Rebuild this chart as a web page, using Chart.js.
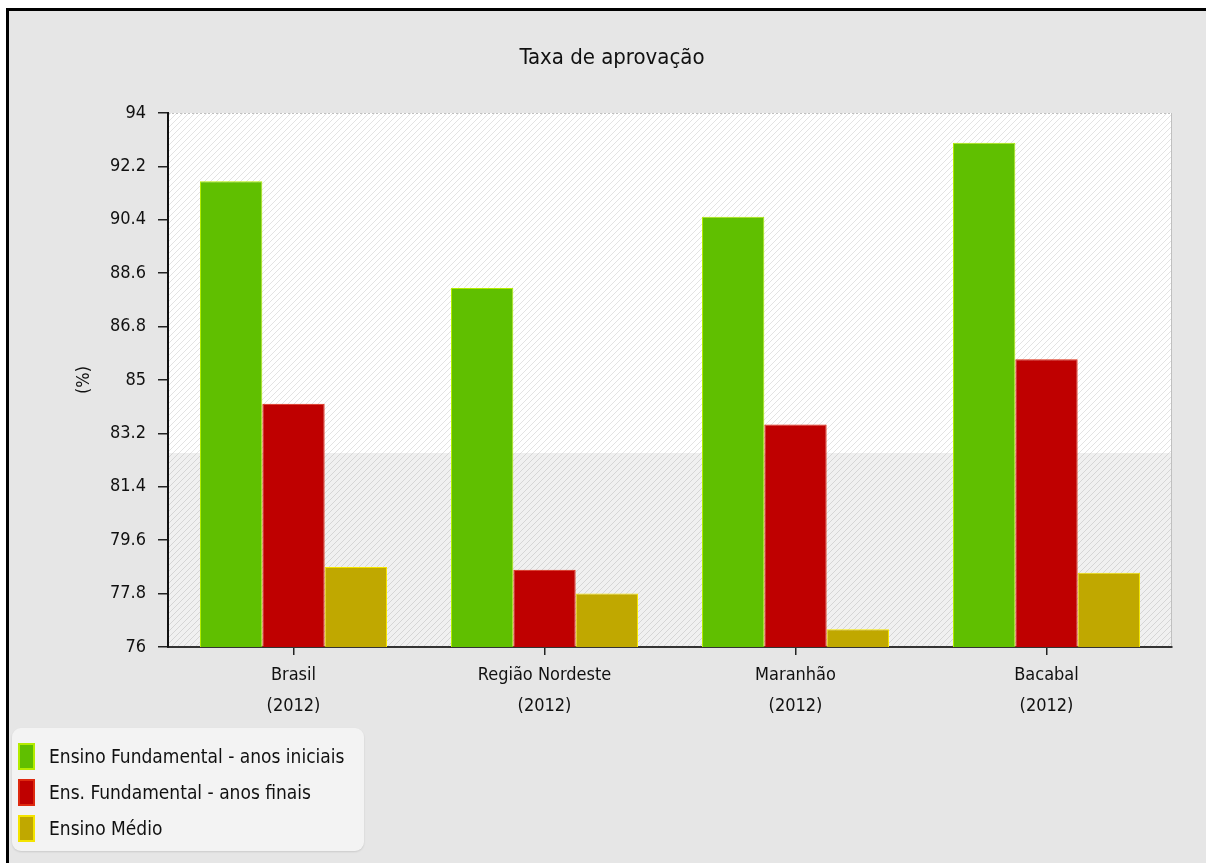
<!DOCTYPE html>
<html lang="pt-BR">
<head>
<meta charset="utf-8">
<title>Taxa de aprovação</title>
<script src="https://cdn.jsdelivr.net/npm/chart.js@4.4.1/dist/chart.umd.min.js"></script>
<style>
  html, body { margin: 0; padding: 0; background: #fff; }
  #frame {
    position: absolute; left: 6px; top: 8px; width: 1197px; height: 860px;
    border-left: 3px solid #000; border-top: 3px solid #000; border-right: 3px solid #000;
    background: #e6e6e6;
  }
  #wrap { position: absolute; left: 0; top: 0; width: 1194px; height: 852px; }
  #legend {
    position: absolute; left: 3px; top: 717px; width: 352px; height: 123px;
    background: #f3f3f3; border-radius: 9px; box-shadow: 0 1px 2px rgba(0,0,0,0.12);
    font-family: 'DejaVu Sans Condensed', 'DejaVu Sans', sans-serif; font-size: 19px; color: #111;
  }
  .legend-item { position: absolute; left: 6px; height: 28px; display: flex; align-items: center; }
  .legend-swatch { width: 13px; height: 23px; border: 2px solid; margin-right: 14px; }
</style>
</head>
<body>
<div id="frame">
  <div id="wrap"><canvas id="chart"></canvas></div>
  <div id="legend"></div>
</div>
<script>
// ── DATA ───────────────────────────────────────────────────────────────────

const CATEGORIES = [
  ['Brasil', '(2012)'],
  ['Região Nordeste', '(2012)'],
  ['Maranhão', '(2012)'],
  ['Bacabal', '(2012)'],
];

const ANOS_INICIAIS = [91.7, 88.1, 90.5, 93.0];
const ANOS_FINAIS   = [84.2, 78.6, 83.5, 85.7];
const ENSINO_MEDIO  = [78.7, 77.8, 76.6, 78.5];

const Y_TICKS = [76, 77.8, 79.6, 81.4, 83.2, 85, 86.8, 88.6, 90.4, 92.2, 94];

const SERIES = [
  { label: 'Ensino Fundamental - anos iniciais', data: ANOS_INICIAIS, color: '#60bf00', edge: '#b4ec00' },
  { label: 'Ens. Fundamental - anos finais',     data: ANOS_FINAIS,   color: '#bf0000', edge: '#de2a10' },
  { label: 'Ensino Médio',                       data: ENSINO_MEDIO,  color: '#c0a800', edge: '#f4e400' },
];

// ── STYLE ──────────────────────────────────────────────────────────────────

const FONT = "'DejaVu Sans Condensed', 'DejaVu Sans', sans-serif";
const INK  = '#111';

// faint diagonal hatch used behind the bars
function hatchPattern(ctx, base) {
  const c = document.createElement('canvas');
  c.width = 6; c.height = 6;
  const g = c.getContext('2d');
  g.fillStyle = base;
  g.fillRect(0, 0, 6, 6);
  g.strokeStyle = 'rgba(0,0,0,0.11)';
  g.lineWidth = 1;
  g.beginPath();
  g.moveTo(-1, 7); g.lineTo(7, -1);
  g.moveTo(-4, 4); g.lineTo(4, -4);
  g.moveTo(2, 10); g.lineTo(10, 2);
  g.stroke();
  return ctx.createPattern(c, 'repeat');
}

const plotBackground = {
  id: 'plotBackground',
  beforeDraw(chart) {
    const { ctx, chartArea: a } = chart;
    const split = a.top + (a.bottom - a.top) * 0.637;
    ctx.save();
    ctx.fillStyle = hatchPattern(ctx, '#ffffff');
    ctx.fillRect(a.left, a.top, a.right - a.left, split - a.top);
    ctx.fillStyle = hatchPattern(ctx, '#f0f0f0');
    ctx.fillRect(a.left, split, a.right - a.left, a.bottom - split);
    // light frame on top and right
    ctx.strokeStyle = '#c0c0c0';
    ctx.lineWidth = 1;
    ctx.setLineDash([2, 2]);
    ctx.beginPath();
    ctx.moveTo(a.left, a.top + 0.5); ctx.lineTo(a.right, a.top + 0.5);
    ctx.stroke();
    ctx.setLineDash([]);
    ctx.beginPath();
    ctx.moveTo(a.right - 0.5, a.top); ctx.lineTo(a.right - 0.5, a.bottom);
    ctx.stroke();
    ctx.restore();
  },
};

// ── CHART ──────────────────────────────────────────────────────────────────

new Chart(document.getElementById('chart').getContext('2d'), {
  type: 'bar',
  data: {
    labels: CATEGORIES,
    datasets: SERIES.map(s => ({
      label: s.label,
      data: s.data,
      backgroundColor: s.color,
      borderColor: s.edge,
      borderWidth: { top: 1, left: 1, right: 1, bottom: 0 },
      borderSkipped: 'bottom',
      categoryPercentage: 0.745,
      barPercentage: 1,
    })),
  },
  options: {
    responsive: true,
    maintainAspectRatio: false,
    animation: false,
    layout: { padding: { left: 43, right: 31, top: 0, bottom: 136 } },
    plugins: {
      legend: { display: false },
      tooltip: { enabled: false },
      title: {
        display: true,
        text: 'Taxa de aprovação',
        color: INK,
        font: { family: FONT, size: 22, weight: 'normal', lineHeight: 1.2 },
        padding: { top: 34, bottom: 41.6 },
      },
    },
    scales: {
      x: {
        grid: { offset: false, drawOnChartArea: false, drawTicks: true, tickLength: 8, color: '#222', lineWidth: 1.5 },
        border: { display: true, color: '#333', width: 2, dash: [3, 2] },
        ticks: { color: INK, padding: 5, font: { family: FONT, size: 18, lineHeight: '31px' } },
        afterFit: scale => { scale.height = 80; },
      },
      y: {
        min: 76,
        max: 94,
        afterBuildTicks: scale => { scale.ticks = Y_TICKS.map(v => ({ value: v })); },
        grid: { drawOnChartArea: false, drawTicks: true, tickLength: 10, color: '#222', lineWidth: 1.5 },
        border: { display: true, color: '#111', width: 2 },
        ticks: { color: INK, padding: 12, font: { family: FONT, size: 18 }, callback: v => String(v) },
        title: {
          display: true,
          text: '(%)',
          color: INK,
          font: { family: FONT, size: 18, lineHeight: 1.2 },
          padding: { top: 22, bottom: 0 },
        },
        afterFit: scale => { scale.width = 116; },
      },
    },
  },
  plugins: [plotBackground],
});

// ── LEGEND ─────────────────────────────────────────────────────────────────

const legendEl = document.getElementById('legend');
SERIES.forEach((s, i) => {
  const item = document.createElement('div');
  item.className = 'legend-item';
  item.style.top = (14 + i * 36) + 'px';
  item.innerHTML = `<div class="legend-swatch" style="background:${s.color};border-color:${s.edge}"></div><span>${s.label}</span>`;
  legendEl.appendChild(item);
});
</script>
</body>
</html>
